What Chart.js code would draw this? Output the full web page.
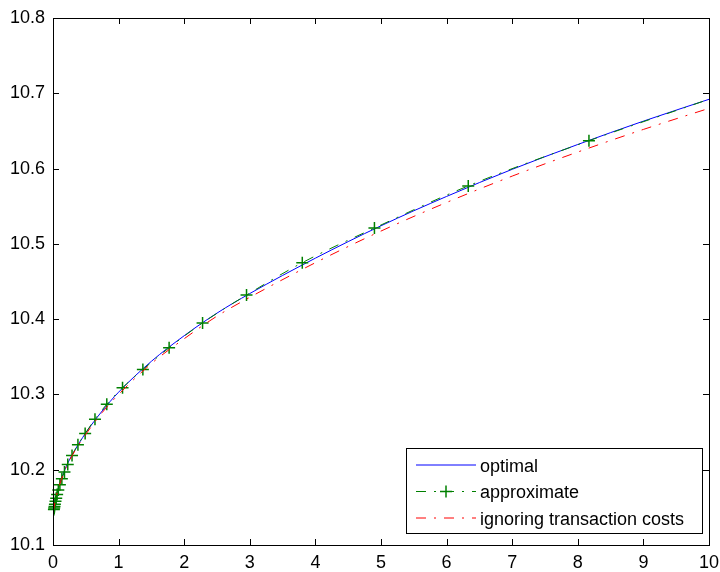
<!DOCTYPE html>
<html>
<head>
<meta charset="utf-8">
<script src="https://cdn.jsdelivr.net/npm/chart.js@4.4.0/dist/chart.umd.min.js"></script>
<style>
body { margin: 0; background: #fff; }
canvas { display: block; }
</style>
</head>
<body>
<canvas id="chart" width="720" height="572"></canvas>
<script>
// values
var optX = [0, 0.02, 0.05, 0.1, 0.2, 0.3, 0.5, 0.75, 1, 1.5, 2, 2.5, 3, 4, 5, 6, 7, 8, 9, 10];
var optY = [10.143, 10.152, 10.165, 10.181, 10.204, 10.221, 10.249, 10.278, 10.303, 10.344, 10.378, 10.408, 10.434, 10.481, 10.524, 10.563, 10.599, 10.632, 10.663, 10.692];

var apxX = [0.014, 0.018, 0.023, 0.029, 0.038, 0.049, 0.063, 0.081, 0.105, 0.135, 0.175, 0.225, 0.29, 0.38, 0.49, 0.64, 0.82, 1.06, 1.37, 1.77, 2.28, 2.95, 3.80, 4.90, 6.33, 8.17, 10];
var apxY = [10.147, 10.149, 10.151, 10.154, 10.158, 10.162, 10.167, 10.173, 10.180, 10.188, 10.197, 10.207, 10.219, 10.233, 10.248, 10.267, 10.287, 10.309, 10.333, 10.362, 10.395, 10.432, 10.475, 10.521, 10.577, 10.637, 10.692];

var ignX = [0, 0.05, 0.1, 0.2, 0.3, 0.5, 0.75, 1, 1.5, 2, 2.5, 3, 4, 5, 6, 7, 8, 9, 10];
var ignY = [10.143, 10.165, 10.180, 10.203, 10.220, 10.247, 10.276, 10.300, 10.341, 10.374, 10.404, 10.429, 10.475, 10.517, 10.555, 10.590, 10.622, 10.652, 10.680];

var seriesNames = ['optimal', 'approximate', 'ignoring transaction costs'];
var xTicks = [0, 1, 2, 3, 4, 5, 6, 7, 8, 9, 10];
var yTicks = [10.1, 10.2, 10.3, 10.4, 10.5, 10.6, 10.7, 10.8];

var dashDot = [10, 8, 2, 8];
var tickFont = { family: 'Liberation Sans, Arial, sans-serif', size: 18 };

var pairs = function (xs, ys) {
	return xs.map(function (x, i) { return { x: x, y: ys[i] }; });
};

// MATLAB style box with inward ticks on all four sides
var boxAxes = {
	id: 'boxAxes',
	afterDraw: function (chart) {
		var ctx = chart.ctx, a = chart.chartArea;
		var xs = chart.scales.x, ys = chart.scales.y;
		ctx.save();
		ctx.strokeStyle = '#000';
		ctx.lineWidth = 1;
		ctx.strokeRect(Math.round(a.left) + 0.5, Math.round(a.top) + 0.5, Math.round(a.right - a.left), Math.round(a.bottom - a.top));
		ctx.beginPath();
		xTicks.forEach(function (v) {
			var px = Math.round(xs.getPixelForValue(v)) + 0.5;
			ctx.moveTo(px, a.bottom); ctx.lineTo(px, a.bottom - 6);
			ctx.moveTo(px, a.top); ctx.lineTo(px, a.top + 6);
		});
		yTicks.forEach(function (v) {
			var py = Math.round(ys.getPixelForValue(v)) + 0.5;
			ctx.moveTo(a.left, py); ctx.lineTo(a.left + 6, py);
			ctx.moveTo(a.right, py); ctx.lineTo(a.right - 6, py);
		});
		ctx.stroke();
		ctx.restore();
	}
};

// legend box in the lower right corner
var boxLegend = {
	id: 'boxLegend',
	afterDraw: function (chart) {
		var ctx = chart.ctx;
		var ds = chart.data.datasets;
		var bx = 406.5, by = 448.5, bw = 296, bh = 85;
		ctx.save();
		ctx.fillStyle = '#fff';
		ctx.fillRect(bx, by, bw, bh);
		ctx.strokeStyle = '#000';
		ctx.lineWidth = 1;
		ctx.strokeRect(bx, by, bw, bh);
		ctx.font = '18px "Liberation Sans", Arial, sans-serif';
		ctx.textBaseline = 'middle';
		ctx.fillStyle = '#000';
		for (var i = 0; i < seriesNames.length; i++) {
			var d = ds[i];
			var y = 465 + i * 26.5;
			ctx.beginPath();
			ctx.strokeStyle = d.borderColor;
			ctx.setLineDash(d.borderDash || []);
			ctx.moveTo(416, y);
			ctx.lineTo(476, y);
			ctx.stroke();
			ctx.setLineDash([]);
			if (i === 1) {
				ctx.beginPath();
				ctx.lineWidth = 1.5;
				ctx.moveTo(440, y); ctx.lineTo(452, y);
				ctx.moveTo(446, y - 6); ctx.lineTo(446, y + 6);
				ctx.stroke();
				ctx.lineWidth = 1;
			}
			ctx.fillText(seriesNames[i], 480, y + 2);
		}
		ctx.restore();
	}
};

var ctx = document.getElementById('chart').getContext('2d');
var chart = new Chart(ctx, {
	type: 'line',
	data: {
		datasets: [{
			label: seriesNames[0],
			data: pairs(optX, optY),
			borderColor: '#0000ff',
			borderWidth: 1,
			pointRadius: 0,
			cubicInterpolationMode: 'monotone',
			order: 3
		}, {
			label: seriesNames[1],
			data: pairs(apxX, apxY),
			borderColor: '#008000',
			backgroundColor: '#008000',
			borderWidth: 1,
			borderDash: dashDot,
			pointStyle: 'cross',
			pointRadius: function (c) { return c.dataIndex === apxX.length - 1 ? 0 : 6; },
			pointBorderWidth: 1.5,
			pointBorderColor: '#008000',
			cubicInterpolationMode: 'monotone',
			clip: false,
			order: 2
		}, {
			label: seriesNames[2],
			data: pairs(ignX, ignY),
			borderColor: '#ff0000',
			borderWidth: 1,
			borderDash: dashDot,
			pointRadius: 0,
			cubicInterpolationMode: 'monotone',
			order: 1
		}]
	},
	options: {
		responsive: false,
		animation: false,
		events: [],
		layout: { padding: { left: 0, right: 11, top: 18, bottom: 0 } },
		plugins: {
			legend: { display: false },
			tooltip: { enabled: false }
		},
		scales: {
			x: {
				type: 'linear',
				min: 0,
				max: 10,
				afterBuildTicks: function (s) { s.ticks = xTicks.map(function (v) { return { value: v }; }); },
				afterFit: function (s) { s.height = 27; s.paddingLeft = 0; s.paddingRight = 0; },
				grid: { display: false, drawTicks: false },
				border: { display: false },
				ticks: { color: '#000', font: tickFont, padding: 7, maxRotation: 0 }
			},
			y: {
				type: 'linear',
				min: 10.1,
				max: 10.8,
				afterBuildTicks: function (s) { s.ticks = yTicks.map(function (v) { return { value: v }; }); },
				afterFit: function (s) { s.width = 53; s.paddingTop = 0; s.paddingBottom = 0; },
				grid: { display: false, drawTicks: false },
				border: { display: false },
				ticks: {
					color: '#000',
					font: tickFont,
					padding: 8,
					callback: function (v) { return v.toFixed(1); }
				}
			}
		}
	},
	plugins: [boxAxes, boxLegend]
});
</script>
</body>
</html>
